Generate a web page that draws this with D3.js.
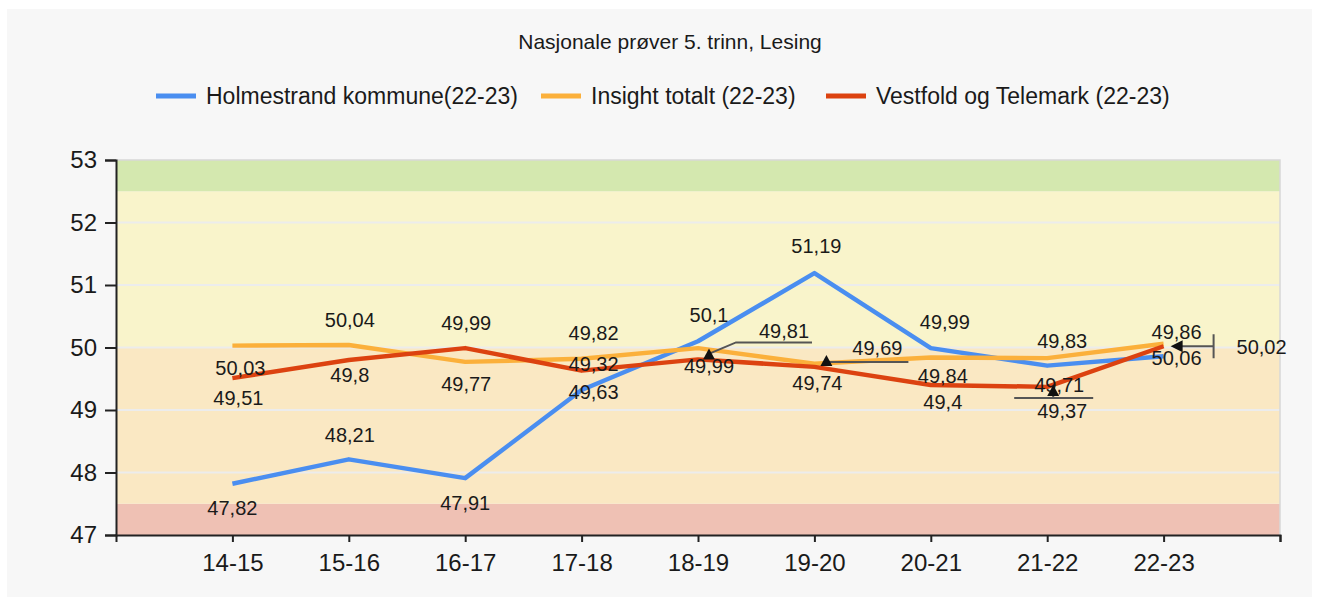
<!DOCTYPE html>
<html>
<head>
<meta charset="utf-8">
<script src="https://cdnjs.cloudflare.com/ajax/libs/d3/7.8.5/d3.min.js"></script>
<style>
  body { margin: 0; background: #ffffff; }
  text { font-family: "Liberation Sans", Arial, sans-serif; fill: #1a1a1a; }
</style>
</head>
<body>
<svg id="chart" width="1319" height="603"></svg>
<script>
// data
var seasons = ["14-15", "15-16", "16-17", "17-18", "18-19", "19-20", "20-21", "21-22", "22-23"];
var holmestrand = [47.82, 48.21, 47.91, 49.32, 50.1, 51.19, 49.99, 49.71, 49.86];
var insight = [50.03, 50.04, 49.77, 49.82, 49.99, 49.74, 49.84, 49.83, 50.06];
var vestfold = [49.51, 49.8, 49.99, 49.63, 49.81, 49.69, 49.4, 49.37, 50.02];
var yTicks = [47, 48, 49, 50, 51, 52, 53];
var bandLimits = [47, 47.5, 50, 52.5, 53];

var series = [
  { name: "Holmestrand kommune(22-23)", values: holmestrand, color: "#4a8ef0" },
  { name: "Insight totalt (22-23)", values: insight, color: "#fbb03b" },
  { name: "Vestfold og Telemark (22-23)", values: vestfold, color: "#dc4210" }
];

// label placement per series: [dx, dy] from the point, or "c" for a callout
var labelPlace = [
  [[0, 24], [1, -25], [0, 25], [12, -26], [11, -26], [2, -27], [14, -26], [12, 19], [13, -24]],
  [[8, 22], [1, -25], [1, 22], [12, -26], [11, 18], [3, 19], [12, 18], [15, -17], [13, 14]],
  [[6, 20], [1, 15], [1, -25], [12, 21], "c", "c", [12, 17], "c", "c"]
];
var bandColors = ["#efc1b4", "#fae8c3", "#f9f4cb", "#d4e8af"];

var svg = d3.select("#chart");
var width = 1319, height = 603;
var margin = { left: 116, right: 39, top: 160, bottom: 68 };

svg.append("rect")
  .attr("x", 7).attr("y", 9)
  .attr("width", 1305).attr("height", 588)
  .attr("fill", "#f7f7f7");

var x = d3.scaleLinear().domain([0, 10]).range([margin.left, width - margin.right]);
var y = d3.scaleLinear().domain([47, 53]).range([height - margin.bottom, margin.top]);

// background bands
for (var b = 0; b < bandColors.length; b++) {
  svg.append("rect")
    .attr("x", x(0))
    .attr("y", y(bandLimits[b + 1]))
    .attr("width", x(10) - x(0))
    .attr("height", y(bandLimits[b]) - y(bandLimits[b + 1]))
    .attr("fill", bandColors[b]);
}

// grid
svg.append("g")
  .selectAll("line")
  .data(yTicks.slice(1, -1))
  .enter()
  .append("line")
  .attr("x1", x(0)).attr("x2", x(10))
  .attr("y1", d => y(d)).attr("y2", d => y(d))
  .attr("stroke", "#ececec")
  .attr("stroke-width", 2);

// top + right frame
svg.append("path")
  .attr("d", `M${x(0)},${y(53)}H${x(10)}V${y(47)}`)
  .attr("fill", "none")
  .attr("stroke", "#d8d8d8")
  .attr("stroke-width", 1.5);

// axes
var yAxis = svg.append("g")
  .attr("transform", `translate(${x(0)},0)`)
  .call(d3.axisLeft(y).tickValues(yTicks).tickSize(11).tickPadding(8).tickFormat(d3.format("d")));
var xAxis = svg.append("g")
  .attr("transform", `translate(0,${y(47)})`)
  .call(d3.axisBottom(x).tickValues(d3.range(1, 11)).tickSize(7).tickPadding(12)
    .tickFormat(d => seasons[d - 1] || ""));
[yAxis, xAxis].forEach(function (a) {
  a.select(".domain").attr("stroke", "#222").attr("stroke-width", 2);
  a.selectAll(".tick line").attr("stroke", "#222").attr("stroke-width", 2);
  a.selectAll("text").attr("font-size", 24).attr("fill", "#1a1a1a")
    .attr("font-family", "'Liberation Sans', Arial, sans-serif");
});

// lines
var line = d3.line()
  .x((d, i) => x(i + 1))
  .y(d => y(d));

series.forEach(function (s) {
  svg.append("path")
    .datum(s.values)
    .attr("d", line)
    .attr("fill", "none")
    .attr("stroke", s.color)
    .attr("stroke-width", 4.5)
    .attr("stroke-linejoin", "round");
});

// value labels
var fmt = d => String(d).replace(".", ",");
var labels = svg.append("g").attr("font-size", 20).attr("text-anchor", "middle");

series.forEach(function (s, si) {
  s.values.forEach(function (v, i) {
    var p = labelPlace[si][i];
    if (p === "c") return;
    labels.append("text")
      .attr("x", x(i + 1) + p[0])
      .attr("y", y(v) + p[1])
      .attr("dy", "0.36em")
      .text(fmt(v));
  });
});

// callouts (Vestfold og Telemark)
var co = svg.append("g").attr("stroke", "#555").attr("stroke-width", 2).attr("fill", "none");
function tri(cx, cy, dir) {
  var pts = dir === "up" ? [[cx, cy - 6], [cx - 6, cy + 5], [cx + 6, cy + 5]]
    : [[cx - 7, cy], [cx + 5, cy - 6], [cx + 5, cy + 6]];
  svg.append("polygon").attr("points", pts.join(" ")).attr("fill", "#111");
}
function calloutText(tx, ty, v) {
  labels.append("text").attr("x", tx).attr("y", ty).attr("dy", "0.36em").text(fmt(v));
}
// 18-19
var px = x(5), py = y(vestfold[4]);
co.append("path").attr("d", `M${px + 12},${py - 6}L${px + 38},${py - 17}H${px + 114}`);
tri(px + 11, py - 5, "up");
calloutText(px + 86, py - 29, vestfold[4]);
// 19-20
px = x(6); py = y(vestfold[5]);
co.append("path").attr("d", `M${px + 12},${py - 5}H${px + 94}`);
tri(px + 12, py - 6, "up");
calloutText(px + 63, py - 19, vestfold[5]);
// 21-22
px = x(8); py = y(vestfold[7]);
co.append("path").attr("d", `M${px + 6},${py + 4}V${py + 11}M${px - 33},${py + 11}H${px + 46}`);
tri(px + 6, py + 4, "up");
calloutText(px + 15, py + 24, vestfold[7]);
// 22-23
px = x(9); py = y(vestfold[8]);
co.append("path").attr("d", `M${px + 15},${py}H${px + 50}M${px + 50},${py - 12}V${py + 12}`);
tri(px + 14, py, "left");
calloutText(px + 98, py + 1, vestfold[8]);

// title
svg.append("text")
  .attr("x", 670).attr("y", 49)
  .attr("text-anchor", "middle")
  .attr("font-size", 21)
  .text("Nasjonale prøver 5. trinn, Lesing");

// legend
var legendX = [156, 541, 826];
var legend = svg.append("g");
series.forEach(function (s, i) {
  legend.append("line")
    .attr("x1", legendX[i]).attr("x2", legendX[i] + 40)
    .attr("y1", 96).attr("y2", 96)
    .attr("stroke", s.color).attr("stroke-width", 5);
  legend.append("text")
    .attr("x", legendX[i] + 50).attr("y", 96)
    .attr("dy", "0.36em")
    .attr("font-size", 23)
    .text(s.name);
});
</script>
</body>
</html>
